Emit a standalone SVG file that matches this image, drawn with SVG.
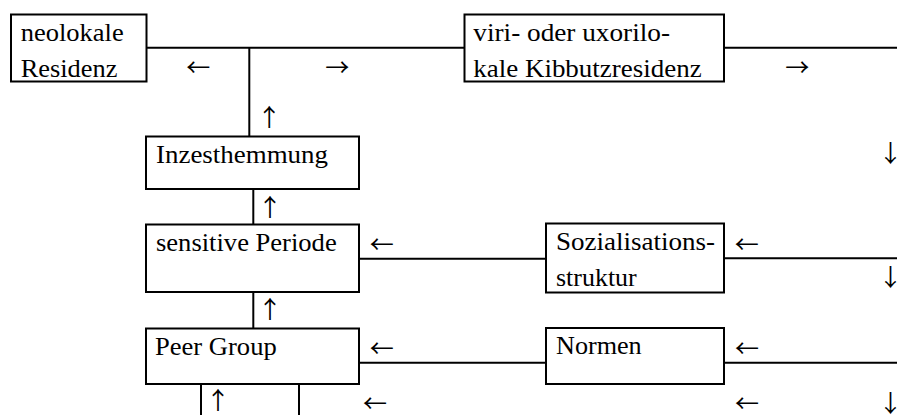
<svg xmlns="http://www.w3.org/2000/svg" width="897" height="415" viewBox="0 0 897 415">
<style>
rect.box{fill:#fff;stroke:#000;stroke-width:2}
.ln{stroke:#000;stroke-width:2;fill:none}
text{font-family:"Liberation Serif","Times New Roman",serif;font-size:26px;fill:#000}
text.ar{font-family:"Noto Sans CJK JP","Noto Sans CJK SC","DejaVu Sans",sans-serif;font-size:24px;text-anchor:middle}
</style>
<rect width="897" height="415" fill="#fff"/>
<g id="connectors">
<path class="ln" d="M146.5 47.7H464.5M724 47.7H897"/>
<path class="ln" d="M249.3 47.7V136.5"/>
<path class="ln" d="M253.3 189V224.5"/>
<path class="ln" d="M359 258.7H546M724 258.3H897"/>
<path class="ln" d="M253.3 292V328.5"/>
<path class="ln" d="M359 362.7H546M724 362.7H897"/>
<path class="ln" d="M201 384V415M299 384V415"/>
<text class="ar" x="198.3" y="75.8">←</text>
<text class="ar" x="337.2" y="75.8">→</text>
<text class="ar" x="797.2" y="75.8">→</text>
<text class="ar" x="269.3" y="125.6">↑</text>
<text class="ar" x="890.5" y="162">↓</text>
<text class="ar" x="270" y="215.6">↑</text>
<text class="ar" x="381.7" y="253">←</text>
<text class="ar" x="746.7" y="253">←</text>
<text class="ar" x="890.5" y="286.4">↓</text>
<text class="ar" x="270" y="318">↑</text>
<text class="ar" x="381.7" y="357.4">←</text>
<text class="ar" x="747" y="357.4">←</text>
<text class="ar" x="218" y="409">↑</text>
<text class="ar" x="375" y="412">←</text>
<text class="ar" x="747" y="412">←</text>
<text class="ar" x="890.5" y="411.5">↓</text>
</g>
<g id="neolokale">
<rect class="box" x="11" y="14.5" width="135.5" height="67"/>
<text x="20.7" y="41" textLength="103" lengthAdjust="spacingAndGlyphs">neolokale</text>
<text x="20.7" y="77" textLength="96.7" lengthAdjust="spacingAndGlyphs">Residenz</text>
</g>
<g id="kibbutzresidenz">
<rect class="box" x="464.5" y="14.5" width="259.5" height="67"/>
<text x="473.3" y="41" textLength="196.7" lengthAdjust="spacingAndGlyphs">viri- oder uxorilo-</text>
<text x="473.3" y="77" textLength="228.3" lengthAdjust="spacingAndGlyphs">kale Kibbutzresidenz</text>
</g>
<g id="inzesthemmung">
<rect class="box" x="146" y="136.5" width="213" height="52.5"/>
<text x="156" y="162.5" textLength="172" lengthAdjust="spacingAndGlyphs">Inzesthemmung</text>
</g>
<g id="sensitive">
<rect class="box" x="146" y="224.5" width="213" height="67.5"/>
<text x="156" y="250.7" textLength="180.7" lengthAdjust="spacingAndGlyphs">sensitive Periode</text>
</g>
<g id="sozialisation">
<rect class="box" x="546" y="223.5" width="178" height="69"/>
<text x="556" y="250.4" textLength="159" lengthAdjust="spacingAndGlyphs">Sozialisations-</text>
<text x="556" y="286" textLength="80.7" lengthAdjust="spacingAndGlyphs">struktur</text>
</g>
<g id="peergroup">
<rect class="box" x="146" y="328.5" width="213" height="55.5"/>
<text x="155" y="354.7" textLength="121.7" lengthAdjust="spacingAndGlyphs">Peer Group</text>
</g>
<g id="normen">
<rect class="box" x="546" y="328" width="178" height="56"/>
<text x="556" y="354.1" textLength="85.7" lengthAdjust="spacingAndGlyphs">Normen</text>
</g>
</svg>
